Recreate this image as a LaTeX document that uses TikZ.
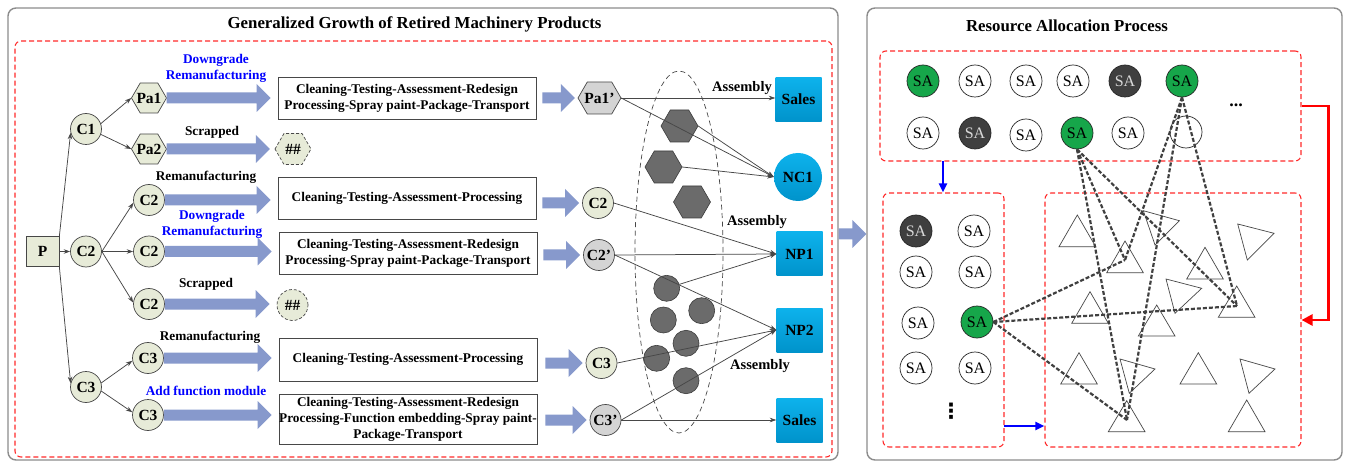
\documentclass[tikz,border=0pt]{standalone}
\usepackage{fontspec}
\setmainfont{Liberation Serif}
\newfontfamily\dotsfont{DejaVu Sans}
\usetikzlibrary{arrows.meta,calc}

\definecolor{fatblue}{HTML}{8799CC}
\definecolor{nodegreen}{HTML}{E7EBD8}
\definecolor{nodegray}{HTML}{D4D4D4}
\definecolor{darkshape}{HTML}{6B6B6B}
\definecolor{darkedge}{HTML}{3C3C3C}
\definecolor{cyantop}{HTML}{0DB2EC}
\definecolor{cyanbot}{HTML}{0093CB}
\definecolor{sagreen}{HTML}{16A64A}
\definecolor{sadark}{HTML}{3F3F3F}
\definecolor{reddash}{HTML}{FF2A2A}
\definecolor{panelgray}{HTML}{8C8C8C}
\definecolor{linegray}{HTML}{474747}

% horizontal block arrow: from the x of #1 to the x of #2, at the height of #3
\newcommand\fatarrow[3]{%
  \fill[fatblue] let \p1=#1, \p2=#2, \p3=#3 in
    (\x1,\y3+5.5pt) -- (\x2-14pt,\y3+5.5pt) -- (\x2-14pt,\y3+14pt) -- (\x2,\y3)
    -- (\x2-14pt,\y3-14pt) -- (\x2-14pt,\y3-5.5pt) -- (\x1,\y3-5.5pt) -- cycle;}

% hexagon with flat top and bottom: name, x, y, width, height, outline style, label
\newcommand\hexnode[7]{%
  \path[#6] ({#2-#4/2},#3) -- ({#2-#4/2+0.29*#5},{#3-#5/2})
    -- ({#2+#4/2-0.29*#5},{#3-#5/2}) -- ({#2+#4/2},#3)
    -- ({#2+#4/2-0.29*#5},{#3+#5/2}) -- ({#2-#4/2+0.29*#5},{#3+#5/2}) -- cycle;
  \node[hexlabel, minimum width=#4, minimum height=#5] (#1) at (#2,#3) {#7};}

\begin{document}
\begin{tikzpicture}[x=1pt, y=-1pt,
  nodefont/.style={font=\fontsize{15.5}{16}\selectfont\bfseries},
  hexlabel/.style={inner sep=0pt, nodefont},
  startbox/.style={rectangle, draw=linegray, line width=0.7pt, fill=nodegreen, minimum width=33, minimum height=30, inner sep=0pt, nodefont},
  cnode/.style={circle, draw=linegray, line width=0.7pt, fill=nodegreen, minimum size=31, inner sep=0pt, nodefont},
  gnode/.style={cnode, fill=nodegray},
  scrapc/.style={cnode, dash pattern=on 3pt off 2pt},
  procbox/.style={rectangle, draw=linegray, line width=0.8pt, fill=white, minimum width=258, minimum height=42, inner sep=0pt, align=center, font=\fontsize{13.3}{16}\selectfont\bfseries},
  lbl/.style={inner sep=0pt, align=center, font=\fontsize{13.3}{16}\selectfont\bfseries},
  bluelbl/.style={lbl, text=blue},
  asm/.style={inner sep=0pt, font=\fontsize{14.5}{15}\selectfont\bfseries},
  conn/.style={draw=linegray, line width=0.75pt, -{Stealth[length=6.5pt,width=4.5pt]}},
  dknode/.style={circle, draw=darkedge, line width=0.6pt, fill=darkshape, minimum size=26, inner sep=0pt},
  goal/.style={rectangle, top color=cyantop, bottom color=cyanbot, minimum width=46, minimum height=44, inner sep=0pt, nodefont},
  goalc/.style={circle, top color=cyantop, bottom color=cyanbot, minimum size=48, inner sep=0pt, nodefont},
  panel/.style={draw=panelgray, line width=1.4pt, rounded corners=8pt, inner sep=0pt},
  zone/.style={draw=reddash, line width=1.1pt, dash pattern=on 5pt off 3pt, rounded corners=6pt, inner sep=0pt},
  paneltitle/.style={inner sep=0pt, font=\fontsize{16.8}{18}\selectfont\bfseries},
  sa/.style={circle, draw=black!85, line width=0.7pt, fill=white, minimum size=32, inner sep=0pt, font=\fontsize{16}{16}\selectfont},
  sagr/.style={sa, fill=sagreen},
  sadk/.style={sa, fill=sadark, text=white!85!black},
  tri/.style={draw=linegray, line width=0.7pt},
  dashlink/.style={draw=black!75, line width=2.2pt, dash pattern=on 4pt off 2pt},
  bluearr/.style={draw=blue, line width=2.2pt, -{Triangle[length=9pt,width=8pt]}},
  redarr/.style={draw=red, line width=2.8pt, -{Triangle[length=11pt,width=11pt]}},
]
\fill[white] (0,0) rectangle (1346,462);
\useasboundingbox (0,0) rectangle (1346,462);

% ---------- frames ----------
\node[panel, minimum width=830, minimum height=452] (leftpanel) at (423,234) {};
\node[panel, minimum width=475, minimum height=452] (rightpanel) at (1104.5,234) {};
\node[zone, minimum width=817, minimum height=416] (growzone) at (423.5,249) {};
\node[zone, minimum width=421, minimum height=110] (pool) at (1090.5,106) {};
\node[zone, minimum width=121, minimum height=254] (picked) at (943.5,320) {};
\node[zone, minimum width=256, minimum height=254] (tasks) at (1173,320) {};
\node[paneltitle] (lefttitle) at (414.5,24) {Generalized Growth of Retired Machinery Products};
\node[paneltitle] (righttitle) at (1067,26) {Resource Allocation Process};

% ---------- decomposition tree ----------
\node[startbox] (P) at (42.5,251.5) {P};
\node[cnode] (C1) at (86,129) {C1};
\node[cnode] (C2) at (86,251.5) {C2};
\node[cnode] (C3) at (86,387) {C3};
\hexnode{Pa1}{149}{98}{35}{30}{fill=nodegreen, draw=linegray, line width=0.7pt}{Pa1}
\hexnode{Pa2}{149}{149}{35}{30}{fill=nodegreen, draw=linegray, line width=0.7pt}{Pa2}
\node[cnode] (C2u) at (149,200) {C2};
\node[cnode] (C2m) at (149,251.5) {C2};
\node[cnode] (C2l) at (149,304) {C2};
\node[cnode] (C3u) at (148,358) {C3};
\node[cnode] (C3l) at (148,415) {C3};

\draw[conn] (P.north east) -- (C1.194);
\draw[conn] (P.east) -- (C2.west);
\draw[conn] (P.south east) -- (C3.166);
\draw[conn] (C1.20) -- (Pa1.west);
\draw[conn] (C1.340) -- (Pa2.west);
\draw[conn] (C2.east) -- (C2u.190);
\draw[conn] (C2.east) -- (C2m.west);
\draw[conn] (C2.east) -- (C2l.175);
\draw[conn] (C3.15) -- (C3u.190);
\draw[conn] (C3.345) -- (C3l.170);

% scrapped parts
\hexnode{scrapA}{293}{149}{36}{31}{fill=nodegreen, draw=linegray, line width=0.7pt, dash pattern=on 3pt off 2pt}{\#\#}
\node[scrapc] (scrapB) at (292.5,305) {\#\#};

% ---------- process chains ----------
\node[procbox] (box1) at (407,98) {Cleaning-Testing-Assessment-Redesign\\Processing-Spray paint-Package-Transport};
\node[procbox] (box2) at (407,198) {Cleaning-Testing-Assessment-Processing};
\node[procbox] (box3) at (408,253) {Cleaning-Testing-Assessment-Redesign\\Processing-Spray paint-Package-Transport};
\node[procbox, minimum height=43] (box4) at (408,359.5) {Cleaning-Testing-Assessment-Processing};
\node[procbox, minimum height=50] (box5) at (408,419) {Cleaning-Testing-Assessment-Redesign\\Processing-Function embedding-Spray paint-\\Package-Transport};

\fatarrow{(Pa1.east)}{([xshift=-7pt]box1.west)}{(Pa1)}
\fatarrow{(Pa2.east)}{([xshift=-5pt]scrapA.west)}{(Pa2)}
\fatarrow{(C2u.east)}{([xshift=-7pt]box2.west)}{(C2u)}
\fatarrow{(C2m.east)}{([xshift=-7pt]box3.west)}{(C2m)}
\fatarrow{(C2l.east)}{([xshift=-7pt]scrapB.west)}{(C2l)}
\fatarrow{(C3u.east)}{([xshift=-7pt]box4.west)}{(C3u)}
\fatarrow{(C3l.east)}{([xshift=-7pt]box5.west)}{(C3l)}

\node[bluelbl] (lab1) at (216,68) {Downgrade\\Remanufacturing};
\node[lbl] (lab2) at (212,132) {Scrapped};
\node[lbl] (lab3) at (206,177) {Remanufacturing};
\node[bluelbl] (lab4) at (212,224) {Downgrade\\Remanufacturing};
\node[lbl] (lab5) at (206,284) {Scrapped};
\node[lbl] (lab6) at (210,337) {Remanufacturing};
\node[bluelbl] (lab7) at (206,391) {Add function module};

% ---------- spare-part pool ----------
\draw[linegray, line width=0.7pt, dash pattern=on 5pt off 3.5pt] (679,252) ellipse [x radius=44pt, y radius=181pt];
\hexnode{hx1}{679.5}{126}{37}{32}{fill=darkshape, draw=darkedge, line width=0.6pt}{}
\hexnode{hx2}{663.5}{167}{37}{32}{fill=darkshape, draw=darkedge, line width=0.6pt}{}
\hexnode{hx3}{692}{202}{37}{32}{fill=darkshape, draw=darkedge, line width=0.6pt}{}
\node[dknode] (dc1) at (666.7,288.3) {};
\node[dknode] (dc2) at (701.7,310.7) {};
\node[dknode] (dc3) at (663.3,320) {};
\node[dknode] (dc4) at (686,343.3) {};
\node[dknode] (dc5) at (656.7,358.3) {};
\node[dknode] (dc6) at (686,380.7) {};

% ---------- processed parts ----------
\hexnode{Pa1p}{599.5}{98}{43}{32}{fill=nodegray, draw=linegray, line width=0.7pt}{Pa1'}
\node[cnode] (C2r) at (598,203) {C2};
\node[gnode] (C2p) at (599,255) {C2'};
\node[cnode] (C3r) at (601.5,363) {C3};
\node[gnode] (C3p) at (605.5,420) {C3'};

\fatarrow{([xshift=6pt]box1.east)}{([xshift=-3pt]Pa1p.west)}{(Pa1p)}
\fatarrow{([xshift=6pt]box2.east)}{([xshift=-3pt]C2r.west)}{(C2r)}
\fatarrow{([xshift=6pt]box3.east)}{([xshift=-3pt]C2p.west)}{(C2p)}
\fatarrow{([xshift=8pt]box4.east)}{([xshift=-3pt]C3r.west)}{(C3r)}
\fatarrow{([xshift=8pt]box5.east)}{([xshift=-3pt]C3p.west)}{(C3p)}

% ---------- products ----------
\node[goal] (sales1) at (798.5,99.5) {Sales};
\node[goalc] (NC1) at (798,177) {NC1};
\node[goal] (NP1) at (799.5,254) {NP1};
\node[goal] (NP2) at (799.5,330) {NP2};
\node[goal] (sales2) at (799.5,420) {Sales};

\draw[conn] (Pa1p.east) -- (sales1.west |- Pa1p.east);
\draw[conn] (Pa1p.east) -- (NC1.west);
\draw[conn] (hx1.east) -- (NC1.west);
\draw[conn] (hx2.east) -- (NC1.west);
\draw[conn] (C2r.east) -- (NP1.west);
\draw[conn] (C2p.east) -- (NP1.west);
\draw[conn] (C2p.east) -- (NP2.west);
\draw[conn] (dc1) -- (NP1.west);
\draw[conn] (C3r.east) -- (NP2.west);
\draw[conn] (C3p.east) -- (NP2.west);
\draw[conn] (C3p.east) -- (sales2.west |- C3p.east);

\node[asm] (asm1) at (742,88) {Assembly};
\node[asm] (asm2) at (757,222) {Assembly};
\node[asm] (asm3) at (760,366) {Assembly};

% link between the two panels
\fatarrow{(leftpanel.east)}{(rightpanel.west)}{(leftpanel.east)}

% ---------- resource allocation ----------
\node[sagr] (sa1) at (923,81) {SA};
\node[sa]   (sa2) at (975,81) {SA};
\node[sa]   (sa3) at (1026,81) {SA};
\node[sa]   (sa4) at (1073,81) {SA};
\node[sadk] (sa5) at (1125,81) {SA};
\node[sagr] (sa6) at (1182,81) {SA};
\node[sa]   (sa7) at (923,133) {SA};
\node[sadk] (sa8) at (975,133) {SA};
\node[sa]   (sa9) at (1026,135) {SA};
\node[sagr] (sa10) at (1077,133) {SA};
\node[sa]   (sa11) at (1128,133) {SA};
\node[sa]   (sa12) at (1186,132) {};
\node[inner sep=0pt, font=\fontsize{18}{18}\selectfont\bfseries] (more1) at (1236,105) {...};

\node[sadk] (lb1) at (916,231) {SA};
\node[sa]   (lb2) at (974,231) {SA};
\node[sa]   (lb3) at (916,272) {SA};
\node[sa]   (lb4) at (975,272) {SA};
\node[sa]   (lb5) at (918,323) {SA};
\node[sagr] (lb6) at (977,322) {SA};
\node[sa]   (lb7) at (916,368) {SA};
\node[sa]   (lb8) at (975,368) {SA};
\node[inner sep=0pt, font=\dotsfont\bfseries\fontsize{21}{21}\selectfont] (more2) at (951,411) {⋮};

% task triangles
\draw[tri] (1077.3,215) -- (1059,246.7) -- (1095.7,246.7) -- cycle;
\draw[tri] (1143.3,210.7) -- (1179.3,220.7) -- (1155,245) -- cycle;
\draw[tri] (1237.7,224) -- (1274,233.3) -- (1247.3,260) -- cycle;
\draw[tri] (1125,241) -- (1106.7,272.7) -- (1143.3,272.7) -- cycle;
\draw[tri] (1205,247.3) -- (1186.7,279) -- (1223.3,279) -- cycle;
\draw[tri] (1166,279) -- (1201.7,288.3) -- (1175,313.3) -- cycle;
\draw[tri] (1090,291.7) -- (1071.7,323.3) -- (1108.3,323.3) -- cycle;
\draw[tri] (1236.7,286) -- (1218.3,317.3) -- (1255,317.3) -- cycle;
\draw[tri] (1156.7,305) -- (1138.3,336) -- (1175,336) -- cycle;
\draw[tri] (1079,352.7) -- (1060.7,384) -- (1097.3,384) -- cycle;
\draw[tri] (1120,359) -- (1155,369) -- (1129.3,393.3) -- cycle;
\draw[tri] (1198.3,352.7) -- (1180,384) -- (1216.7,384) -- cycle;
\draw[tri] (1240,359) -- (1275,369) -- (1249,393.3) -- cycle;
\draw[tri] (1126.7,400.7) -- (1108.3,431.7) -- (1145,431.7) -- cycle;
\draw[tri] (1246.7,400) -- (1228.3,431.7) -- (1265,431.7) -- cycle;

\coordinate (t4) at (1125,260);
\coordinate (t8) at (1237,306);
\coordinate (t14) at (1127,420);

\foreach \s in {sa6.south, sa10.south, lb6.east}{
  \foreach \t in {t4, t8, t14}{
    \draw[dashlink] (\s) -- (\t);
  }
}

% flow arrows
\coordinate (d1) at (943,161);
\draw[bluearr] (d1) -- (d1 |- picked.north);
\coordinate (d2) at (1004,426);
\draw[bluearr] (d2) -- (d2 -| tasks.west);
\draw[redarr] (pool.east) -- ++(27,0) |- (tasks.east);
\end{tikzpicture}
\end{document}
